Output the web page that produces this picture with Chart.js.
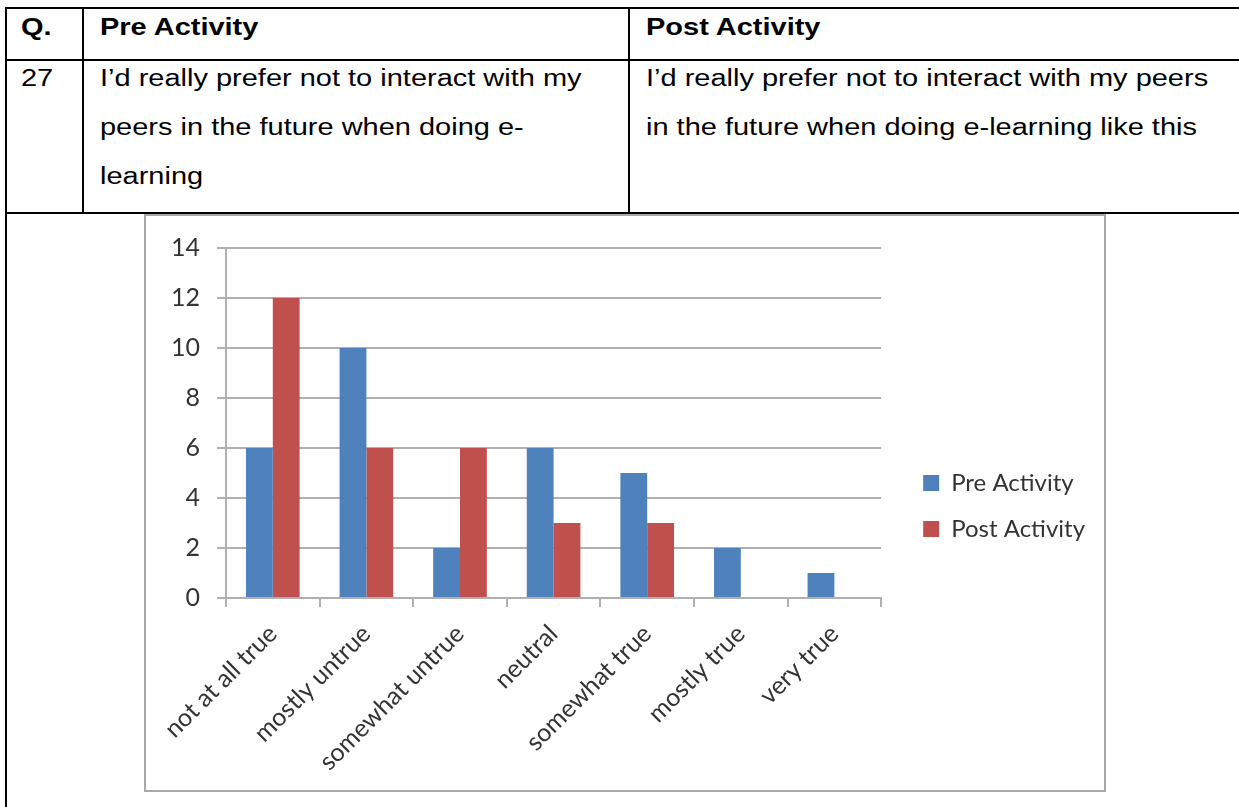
<!DOCTYPE html>
<html>
<head>
<meta charset="utf-8">
<script src="https://cdn.jsdelivr.net/npm/chart.js@4.4.1/dist/chart.umd.min.js"></script>
<style>
  body {
    margin: 0;
    width: 1239px;
    height: 807px;
    overflow: hidden;
    background: #fff;
    position: relative;
    font-family: "Liberation Sans", Arial, sans-serif;
    color: #000;
  }
  .line { position: absolute; background: #000; }
  .cell {
    position: absolute;
    font-size: 23px;
    line-height: 49px;
    white-space: nowrap;
    transform: scaleX(1.26);
    transform-origin: left top;
  }
  .head { font-weight: bold; }
  #chartBox {
    position: absolute;
    left: 144px;
    top: 214px;
    width: 958px;
    height: 574px;
    border: 2px solid #a8a8a8;
    background: #fff;
  }
  #myChart { display: block; }
</style>
</head>
<body>
  <!-- table rules -->
  <div class="line" style="left:5px; top:7px; width:1234px; height:2px"></div>
  <div class="line" style="left:5px; top:59px; width:1234px; height:2px"></div>
  <div class="line" style="left:5px; top:212px; width:1234px; height:2px"></div>
  <div class="line" style="left:5px; top:7px; width:2px; height:800px"></div>
  <div class="line" style="left:82px; top:7px; width:2px; height:206px"></div>
  <div class="line" style="left:628px; top:7px; width:2px; height:206px"></div>

  <div class="cell head" style="left:21px; top:3px">Q.</div>
  <div class="cell head" style="left:100px; top:3px">Pre Activity</div>
  <div class="cell head" style="left:646px; top:3px">Post Activity</div>

  <div class="cell" style="left:21px; top:54px">27</div>
  <div class="cell" style="left:100px; top:54px">I’d really prefer not to interact with my<br>peers in the future when doing e-<br>learning</div>
  <div class="cell" style="left:646px; top:54px">I’d really prefer not to interact with my peers<br>in the future when doing e-learning like this</div>

  <div id="chartBox">
    <canvas id="myChart" width="958" height="574"></canvas>
  </div>

<script>
// Survey answers, counts per response
const categories = ["not at all true", "mostly untrue", "somewhat untrue", "neutral", "somewhat true", "mostly true", "very true"];
const preActivity = [6, 10, 2, 6, 5, 2, 1];
const postActivity = [12, 6, 6, 3, 3, 0, 0];
const yTicks = [0, 2, 4, 6, 8, 10, 12, 14];

const gridColor = "#b0b0b0";
const textColor = "#333333";
const fontFamily = "Lato, 'Open Sans', sans-serif";

const ctx = document.getElementById("myChart").getContext("2d");
const myChart = new Chart(ctx, {
  type: "bar",
  data: {
    labels: categories,
    datasets: [
      {
        label: "Pre Activity",
        data: preActivity,
        backgroundColor: "#4f81bd",
        borderWidth: 0,
      },
      {
        label: "Post Activity",
        data: postActivity,
        backgroundColor: "#c0504d",
        borderWidth: 0,
      },
    ],
  },
  options: {
    responsive: false,
    animation: false,
    layout: {
      padding: { top: 6, left: 0, right: 9, bottom: 0 },
    },
    datasets: {
      bar: {
        barPercentage: 1,
        categoryPercentage: 0.573,
      },
    },
    plugins: {
      tooltip: { enabled: false },
      // blank title only used as top margin above the plot
      title: {
        display: true,
        text: "",
        fullSize: false,
        font: { size: 12 },
        padding: { top: 0, bottom: 10.6 },
      },
      legend: {
        position: "right",
        maxWidth: 400,
        labels: {
          boxWidth: 16,
          boxHeight: 16,
          padding: 22,
          color: textColor,
          font: { family: fontFamily, size: 24 },
        },
      },
    },
    scales: {
      x: {
        grid: {
          offset: true,
          drawOnChartArea: false,
          tickLength: 9,
          color: gridColor,
          lineWidth: 2,
        },
        border: { color: gridColor, width: 2 },
        ticks: {
          autoSkip: false,
          minRotation: 45,
          maxRotation: 45,
          padding: 12,
          color: textColor,
          font: { family: fontFamily, size: 25 },
        },
        afterFit(scale) {
          scale.height = 192;
        },
      },
      y: {
        min: 0,
        max: 14,
        afterBuildTicks(scale) {
          scale.ticks = yTicks.map((v) => ({ value: v }));
        },
        grid: {
          tickLength: 9,
          color: gridColor,
          lineWidth: 2,
        },
        border: { color: gridColor, width: 2 },
        ticks: {
          padding: 17,
          color: textColor,
          font: { family: fontFamily, size: 25 },
        },
        afterFit(scale) {
          scale.width = 80;
        },
      },
      // empty axis that keeps the legend clear of the plot
      spacer: {
        type: "linear",
        position: "right",
        display: true,
        grid: { display: false, drawTicks: false },
        border: { display: false },
        ticks: { display: false },
        afterFit(scale) {
          scale.width = 20;
        },
      },
    },
  },
});
</script>
</body>
</html>
